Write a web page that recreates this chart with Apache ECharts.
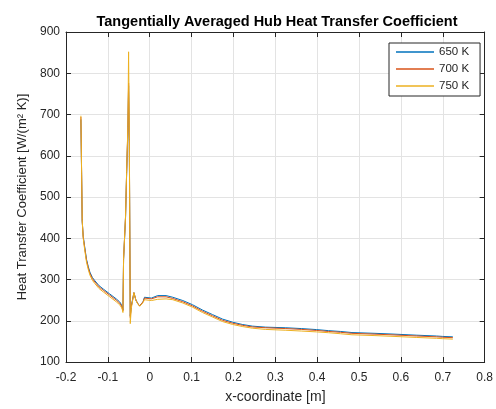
<!DOCTYPE html>
<html>
<head>
<meta charset="utf-8">
<script src="https://cdn.jsdelivr.net/npm/echarts@6/dist/echarts.min.js"></script>
<style>
html,body{margin:0;padding:0;background:#fff;}
#chart{width:496px;height:409px;}
</style>
</head>
<body>
<div id="chart"></div>
<script>
// x-coordinate [m]
const xs = [-0.1644,-0.1627,-0.1613,-0.1589,-0.1556,-0.151,-0.147,-0.143,-0.137,-0.131,-0.121,-0.111,-0.0955,-0.080,-0.072,-0.068,-0.0655,-0.064,-0.0625,-0.0578,-0.0552,-0.0522,-0.0505,-0.0487,-0.0465,-0.044,-0.0378,-0.033,-0.028,-0.024,-0.020,-0.016,-0.0125,-0.011,0.004,0.019,0.039,0.055,0.079,0.102,0.126,0.150,0.174,0.198,0.221,0.245,0.277,0.325,0.363,0.398,0.427,0.456,0.483,0.538,0.574,0.617,0.638,0.685,0.700,0.724];
const htc650 = [688,554,441,405,381,349,332,318,305,297,285,277,265,253,246,240,234,226,349,450,556,662,770,622,212,235,268,250,241,236,238,246,257,255,255,261,261,257,249,239,226,215,204,196.5,191,187,184.5,183,181,178.6,176,174,171.4,169.5,168,166,165,163,162,161];
const htc700 = [694,556,443,403,378,346,329,315,302,294,282,274,262,250,243,237,231,224,349,452,558,668,776,628,208,234,268,250,241,236,238,246,255,253,253,258,258,254,246,236,223,212,201,194,189,185,183,181,179,176.5,174,172,169.5,167.5,166,164,163,161,160,159];
const htc750 = [697,558,445,400,374,342,325,311,298,290,278,270,258,246,239,233,227,220,349,454,560,670,852,640,193,230,268,249,240,235,237,244,251,249,249,252,253,251,243,233,220,209,198,191,186,182,179,177,175,173,171,168.5,166,164,162.5,160.5,159.5,157.5,156.5,155.5];
const seriesNames = ['650 K','700 K','750 K'];
const seriesColors = ['#0072BD','#D95319','#EDB120'];
const xTicks = {min:-0.2, max:0.8, interval:0.1};
const yTicks = {min:100, max:900, interval:100};

const font = 'Liberation Sans, Arial, Helvetica, sans-serif';
const txt = '#262626';
const gridCol = '#e3e3e3';

function pairs(ys){ return xs.map((x,i)=>[x, ys[i]]); }
const allY = [htc650, htc700, htc750];

const chart = echarts.init(document.getElementById('chart'), null, {renderer:'canvas'});
const baseX = {
  type:'value', min:xTicks.min, max:xTicks.max, interval:xTicks.interval,
  axisLine:{show:true, onZero:false, lineStyle:{color:txt, width:1}},
  axisTick:{show:true, inside:true, length:5, lineStyle:{color:txt}},
};
const baseY = {
  type:'value', min:yTicks.min, max:yTicks.max, interval:yTicks.interval,
  axisLine:{show:true, onZero:false, lineStyle:{color:txt, width:1}},
  axisTick:{show:true, inside:true, length:5, lineStyle:{color:txt}},
};
chart.setOption({
  animation:false,
  backgroundColor:'#fff',
  title:{
    text:'Tangentially Averaged Hub Heat Transfer Coefficient',
    left:272, top:9, textAlign:'center',
    textStyle:{fontFamily:font, fontSize:14.5, fontWeight:'bold', color:'#000'}
  },
  grid:{left:66, right:9, top:32, bottom:46, containLabel:false},
  legend:{
    orient:'vertical', left:389, top:43,
    padding:[2,11,3,7], itemGap:3, itemWidth:38, itemHeight:1.5,
    icon:'rect',
    backgroundColor:'#fff', borderColor:txt, borderWidth:1, borderRadius:0,
    textStyle:{fontFamily:font, fontSize:11.5, color:txt, lineHeight:14},
    data:seriesNames
  },
  xAxis:[
    Object.assign({}, baseX, {
      position:'bottom',
      name:'x-coordinate [m]', nameLocation:'middle', nameGap:28,
      nameTextStyle:{fontFamily:font, fontSize:14, color:txt},
      axisLabel:{fontFamily:font, fontSize:12, color:txt, margin:10},
      splitLine:{show:true, lineStyle:{color:gridCol, width:1}}
    }),
    Object.assign({}, baseX, {
      position:'top', axisLabel:{show:false}, splitLine:{show:false}
    })
  ],
  yAxis:[
    Object.assign({}, baseY, {
      position:'left',
      name:'Heat Transfer Coefficient [W/(m\u00B2 K)]', nameLocation:'middle', nameGap:34,
      nameTextStyle:{fontFamily:font, fontSize:13, color:txt},
      axisLabel:{fontFamily:font, fontSize:12, color:txt, margin:6},
      splitLine:{show:true, lineStyle:{color:gridCol, width:1}}
    }),
    Object.assign({}, baseY, {
      position:'right', axisLabel:{show:false}, splitLine:{show:false}
    })
  ],
  series: seriesNames.map((n,i)=>({
    name:n, type:'line', xAxisIndex:0, yAxisIndex:0,
    data:pairs(allY[i]), symbol:'none', showSymbol:false,
    lineStyle:{color:seriesColors[i], width:1},
    itemStyle:{color:seriesColors[i]},
    z:2+i
  }))
});
</script>
</body>
</html>
